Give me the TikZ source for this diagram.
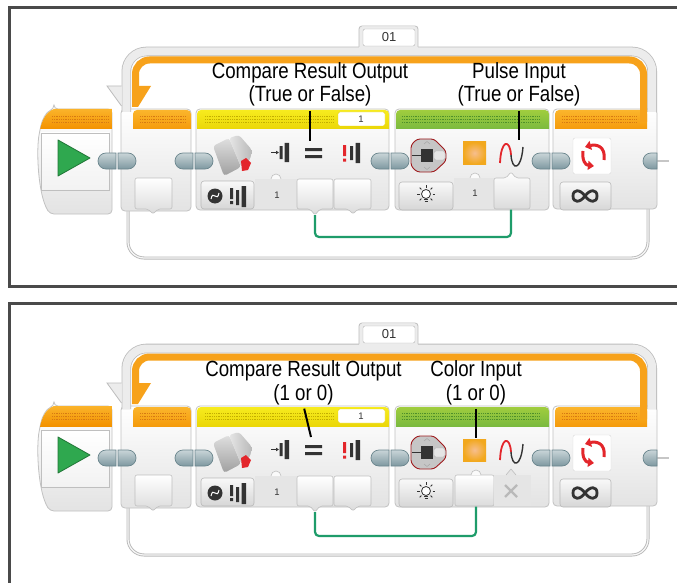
\documentclass[tikz,border=0pt]{standalone}
\usepackage{fontspec}
\newfontfamily\calloutfont[FakeStretch=0.85]{Liberation Sans}
\newfontfamily\numfont{Liberation Sans}
\usetikzlibrary{arrows.meta}

\definecolor{framegray}{HTML}{4A4A4A}
\definecolor{bandedge}{HTML}{BDBDBD}
\definecolor{bandfill}{HTML}{ECECEC}
\definecolor{looporange}{HTML}{F7A21B}
\definecolor{orangetop}{HTML}{FBB52C}
\definecolor{orangebot}{HTML}{F39200}
\definecolor{orangedot}{HTML}{D67A12}
\definecolor{yellowtop}{HTML}{F7EB1E}
\definecolor{yellowbot}{HTML}{E6D000}
\definecolor{yellowdot}{HTML}{C2AE00}
\definecolor{greentop}{HTML}{A0CD3E}
\definecolor{greenbot}{HTML}{6DB33F}
\definecolor{greendot}{HTML}{4E8F2A}
\definecolor{bodyedge}{HTML}{C2C2C2}
\definecolor{bodybot}{HTML}{E3E3E3}
\definecolor{plugtop}{HTML}{C9D5D8}
\definecolor{plugbot}{HTML}{7E98A0}
\definecolor{plugedge}{HTML}{6A858D}
\definecolor{wiregreen}{HTML}{1E9C6A}
\definecolor{startgreen}{HTML}{2FA84F}
\definecolor{iconred}{HTML}{E3262B}
\definecolor{icondark}{HTML}{333333}
\definecolor{sqouter}{HTML}{F2A81D}
\definecolor{sqinner}{HTML}{F7BE8E}

% colored block header with its dot texture
\newcommand\blockhead[7]{%
  \begin{scope}
    \clip (#1-2,100) rectangle (#2+2,129);
    \shade[top color=#3,bottom color=#4,rounded corners=4pt] (#1,110) rectangle (#2,136);
  \end{scope}
  \foreach \hy in {116,119,122}
    \draw[#5,hdots] (#6,\hy) -- (#7,\hy);
}
% two half plugs meeting at x = #1
\newcommand\plugpair[1]{%
  \draw[plug] (#1-1,153) -- (#1-11,153) arc[start angle=270,end angle=90,radius=8] -- (#1-1,169) -- cycle;
  \draw[plug] (#1+1,153) -- (#1+11,153) arc[start angle=-90,end angle=90,radius=8] -- (#1+1,169) -- cycle;
}

\begin{document}
\begin{tikzpicture}
  [x=1pt,y=-1pt,
   frame/.style={draw=framegray,line width=3pt},
   loopband/.style={draw=bandedge,double=bandfill,double distance=8pt,line width=0.8pt,rounded corners=20pt},
   looptube/.style={draw=gray!55,double=gray!6,double distance=1.2pt,line width=0.9pt,rounded corners=16pt},
   orangeband/.style={draw=looporange,line width=7pt,rounded corners=14pt},
   blockbody/.style={draw=bodyedge,top color=white,bottom color=bodybot,line width=0.8pt,rounded corners=4pt},
   modebtn/.style={draw=gray!55,top color=gray!5,bottom color=gray!32,line width=0.6pt,rounded corners=3pt},
   slot/.style={draw=gray!50,top color=white,bottom color=gray!28,line width=0.6pt,rounded corners=2pt},
   valueslot/.style={fill=gray!20},
   bump/.style={draw=gray!50,fill=gray!4,line width=0.6pt},
   plug/.style={draw=plugedge,top color=plugtop,bottom color=plugbot,line width=0.7pt},
   wire/.style={draw=wiregreen,line width=2.2pt,rounded corners=4pt},
   pointer/.style={draw=black,line width=2pt,shorten <=3pt},
   callout/.style={font=\calloutfont\fontsize{22}{24}\selectfont,inner sep=1pt,anchor=base},
   tagnum/.style={font=\numfont\fontsize{13}{13}\selectfont,text=icondark},
   smallnum/.style={font=\numfont\fontsize{9.5}{10}\selectfont,text=icondark},
   hdots/.style={dash pattern=on 0.7pt off 1.1pt,line width=0.7pt}]

\fill[white] (0,0) rectangle (677,583);
\useasboundingbox (0,0) rectangle (677,583);

\draw[frame] (700,8) -- (9.5,8) -- (9.5,286) -- (700,286);
\draw[frame] (700,303) -- (9.5,303) -- (9.5,600);

\foreach \dy in {0,297}{
\begin{scope}[shift={(0,\dy)}]
  \draw[looptube] (128,205) -- (128,258) -- (648,258) -- (648,205);

  % start block
  \draw[blockbody] (54,109) -- (112,109) -- (112,214) -- (50,214)
    .. controls (38,195) and (36,150) .. (40,130) .. controls (42,120) and (46,112) .. (54,109) -- cycle;
  \begin{scope}
    \clip (54,109) -- (112,109) -- (112,214) -- (50,214)
      .. controls (38,195) and (36,150) .. (40,130) .. controls (42,120) and (46,112) .. (54,109) -- cycle;
    \shade[top color=orangetop,bottom color=orangebot] (30,108) rectangle (115,129);
  \end{scope}
  \foreach \hy in {116,119,122}
    \draw[orangedot,hdots] (52,\hy) -- (108,\hy);
  \draw[draw=gray!50,top color=white,bottom color=gray!10] (41,133) rectangle (109,190);
  \draw[draw=startgreen!70!black,fill=startgreen,line width=0.8pt,line join=round]
    (58,140) -- (90,158) -- (58,176) -- cycle;

  % loop start
  \draw[blockbody] (121,109) rectangle (191,211);
  \blockhead{133}{191}{orangetop}{orangebot}{orangedot}{140}{186}
  \draw[slot] (135,178) -- (172,178) -- (172,209) -- (158,209) -- (153,214) -- (148,209) -- (135,209) -- cycle;

  % compare block
  \draw[blockbody] (196,109) rectangle (389,210);
  \blockhead{197}{389}{yellowtop}{yellowbot}{yellowdot}{205}{334}
  \draw[draw=yellowbot,fill=white,rounded corners=2pt] (338,112) rectangle (385,126);
  \node[smallnum] (cmpcount) at (361,119) {1};
  \shade[top color=gray!25,bottom color=gray!75,rounded corners=3pt]
    (213,146) -- (229,138) -- (241,167) -- (224,176) -- cycle;
  \shade[left color=gray!20,right color=gray!55,rounded corners=3pt]
    (229,138) -- (239,135) -- (252,150) -- (250,160) -- (241,167) -- cycle;
  \fill[iconred] (241,161) -- (246,158) -- (251,163) -- (248,170) -- (242,171) -- cycle;
  \draw[icondark,line width=1.2pt,-{Latex[length=3pt,width=4pt]}] (271,152.5) -- (279,152.5);
  \fill[icondark] (279.5,146) rectangle (282.5,159) (284.5,143) rectangle (289,162);
  \fill[icondark] (305,148) rectangle (322,151) (305,155) rectangle (322,158);
  \fill[iconred] (343,145) rectangle (346,156) (343,158.5) rectangle (346,161.5);
  \fill[icondark] (350,146) rectangle (353,160) (355.5,143) rectangle (360,163);
  \draw[modebtn] (201,181) rectangle (254,209);
  \fill[icondark] (215,196) circle (7.5);
  \draw[white,line width=1pt] (211,199) .. controls (213,189) and (217,203) .. (219,193);
  \fill[icondark] (230,188) rectangle (233,199) (230,201) rectangle (233,204);
  \fill[icondark] (236,190) rectangle (239,205) (241.5,186) rectangle (246,207);
  \fill[valueslot] (254.5,179) rectangle (296.5,209);
  \draw[bump] (271,179) arc[start angle=180,end angle=360,radius=5];
  \node[smallnum] (cmpinput) at (277,195) {1};
  \draw[slot] (297,179) -- (333,179) -- (333,209) -- (320,209) -- (315,215) -- (310,209) -- (297,209) -- cycle;
  \draw[slot] (334,179) -- (371,179) -- (371,209) -- (358,209) -- (353,214) -- (348,209) -- (334,209) -- cycle;

  % brick status light block
  \draw[blockbody] (395,109) rectangle (549,210);
  \blockhead{396}{549}{greentop}{greenbot}{greendot}{402}{540}
  \draw[draw=iconred!70!black,fill=gray!45,line width=0.9pt,rounded corners=3pt]
    (417,139) -- (434,139) -- (446,151) -- (446,161) -- (434,172) -- (417,172) -- (411,166) -- (411,145) -- cycle;
  \fill[icondark] (421,149) rectangle (433,162);
  \draw[draw=gray!60,fill=gray!20,rounded corners=2pt] (434,151) rectangle (445,160);
  \draw[icondark,line width=1pt] (412,155.5) -- (421,155.5);
  \draw[gray!70,line width=0.5pt] (424,144) -- (427,141.5) -- (430,144) (424,167) -- (427,169.5) -- (430,167);
  \shade[inner color=sqinner,outer color=sqouter] (463,142) rectangle (486,164);
  \draw[iconred,line width=1.8pt] (500,163) .. controls (501,139) and (510,139) .. (511,155);
  \draw[icondark,line width=1.4pt] (511,155) .. controls (512,171) and (521,171) .. (523,147);
  \draw[modebtn] (399,182) rectangle (453,210);
  \draw[icondark,line width=0.8pt,fill=white] (426,194) circle (4.5);
  \draw[icondark,line width=0.8pt] (424,199.5) -- (428,199.5) (424.5,201.5) -- (427.5,201.5);
  \foreach \a in {0,45,135,180,225,270,315}
    \draw[icondark,line width=0.8pt] (426,194) ++(\a:6.5) -- ++(\a:2.5);

  % loop end
  \draw[blockbody] (553,109) rectangle (657,209);
  \blockhead{555}{647}{orangetop}{orangebot}{orangedot}{562}{636}
  \draw[draw=gray!30,fill=white,rounded corners=2pt] (573,138) rectangle (611,174);
  \draw[iconred,line width=3pt,-{Triangle[length=6pt,width=9pt]}] (604,160) .. controls (606,146) and (596,144) .. (585,147);
  \draw[iconred,line width=3pt,-{Triangle[length=6pt,width=9pt]}] (583,151) .. controls (582,160) and (585,165) .. (594,166);
  \draw[modebtn] (560,182) rectangle (611,210);
  \draw[icondark,line width=2.8pt] (585,196) .. controls (580,189) and (573,189) .. (573,196)
    .. controls (573,203) and (580,203) .. (585,196) .. controls (590,189) and (597,189) .. (597,196)
    .. controls (597,203) and (590,203) .. (585,196);

  % loop frame
  \draw[loopband] (126.3,112) -- (126.3,51.5) -- (652.2,51.5) -- (652.2,112);
  \fill[bandfill] (359,27) rectangle (418,53);
  \draw[bandedge,line width=0.8pt,rounded corners=3pt] (359,47) -- (359,26) -- (418,26) -- (418,47);
  \draw[draw=gray!60,fill=white,rounded corners=2pt] (363,29) rectangle (415,46);
  \node[tagnum] (loopname) at (389,37.5) {01};
  \fill[bandfill] (121.5,86) -- (107,86) -- (121.5,106) -- cycle;
  \draw[bandedge,line width=0.8pt] (121.5,86) -- (107,86) -- (121.5,106);
  \draw[orangeband] (135.5,100) -- (135.5,60) -- (643.5,60) -- (643.5,122);
  \fill[looporange] (132,86) -- (151,86) -- (138,107) -- (132,107) -- cycle;

  % plugs
  \plugpair{117}
  \plugpair{194}
  \plugpair{390}
  \plugpair{551}
  \draw[gray!45,line width=1.5pt] (657,161) -- (669,161);
  \draw[plug] (657,153) -- (651,153) arc[start angle=270,end angle=90,radius=8] -- (657,169) -- cycle;
\end{scope}
}

% pulse input version
\fill[valueslot] (453.5,178) rectangle (494,209);
\draw[bump] (470,178) arc[start angle=180,end angle=360,radius=5];
\node[smallnum] (lightinput) at (475,193) {1};
\draw[slot] (494,178) -- (506,178) -- (511,172) -- (516,178) -- (530,178) -- (530,209) -- (494,209) -- cycle;
\draw[wire] (315,215) -- (315,237) -- (511,237) -- (511,209.5);
\node[callout] (cmpres) at (310,79) {Compare Result Output};
\node[callout] (cmpval) at (310,102) {(True or False)};
\node[callout] (pulsename) at (519,79) {Pulse Input};
\node[callout] (pulseval) at (519,102) {(True or False)};
\coordinate (cmpeq) at (310,141);
\coordinate (pulsewave) at (519,140);
\draw[pointer] (cmpval.south) -- (cmpeq);
\draw[pointer] (pulseval.south) -- (pulsewave);

% color input version
\begin{scope}[shift={(0,297)}]
  \draw[slot] (455,178) rectangle (494,209);
  \draw[bump] (471,178) arc[start angle=180,end angle=360,radius=5];
  \fill[valueslot] (494,178) rectangle (531,209);
  \draw[bump,fill=gray!20] (506,178) -- (511,172) -- (516,178);
  \draw[gray!55,line width=2.2pt] (505,188) -- (517,200) (505,200) -- (517,188);
  \draw[wire] (315,215) -- (315,239) -- (476,239) -- (476,209.5);
  \node[callout] (cmpres) at (303.5,79) {Compare Result Output};
  \node[callout] (cmpval) at (303.5,103) {(1 or 0)};
  \node[callout] (colorname) at (476,79) {Color Input};
  \node[callout] (colorval) at (476,103) {(1 or 0)};
  \coordinate (cmpeq) at (311,140);
  \coordinate (colorsq) at (476,141);
  \draw[pointer] (cmpval.south) -- (cmpeq);
  \draw[pointer] (colorval.south) -- (colorsq);
\end{scope}
\end{tikzpicture}
\end{document}
